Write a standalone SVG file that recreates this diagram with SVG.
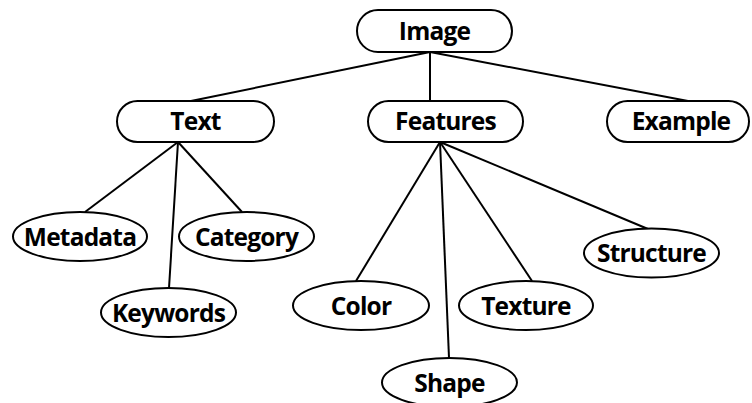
<svg xmlns="http://www.w3.org/2000/svg" width="752" height="403" viewBox="0 0 752 403">
<style>
.n{fill:#fff;stroke:#000;stroke-width:2}
.t{font-family:"Open Sans","Noto Sans","Liberation Sans",sans-serif;font-weight:bold;font-size:24.5px;letter-spacing:-0.8px;text-anchor:middle;fill:#000}
.c line{stroke:#000;stroke-width:2}
</style>
<rect width="752" height="403" fill="#fff"/>
<g class="c" id="connectors">
<line x1="430" y1="52" x2="191" y2="101"/>
<line x1="430" y1="52" x2="430" y2="101"/>
<line x1="430" y1="52" x2="688" y2="101"/>
<line x1="178" y1="142" x2="85" y2="212"/>
<line x1="178" y1="142" x2="169" y2="288"/>
<line x1="178" y1="142" x2="242" y2="212"/>
<line x1="440" y1="142" x2="356" y2="281"/>
<line x1="440" y1="142" x2="449" y2="358"/>
<line x1="440" y1="142" x2="532" y2="281"/>
<line x1="440" y1="142" x2="648" y2="229"/>
</g>
<g id="image"><rect class="n" x="357" y="10" width="155" height="42" rx="21"/><text class="t" x="434.5" y="40">Image</text></g>
<g id="text"><rect class="n" x="117" y="101" width="157" height="41" rx="20.5"/><text class="t" x="195.5" y="130">Text</text></g>
<g id="features"><rect class="n" x="368" y="101" width="155" height="41" rx="20.5"/><text class="t" x="445.5" y="130">Features</text></g>
<g id="example"><rect class="n" x="607" y="101" width="142" height="41" rx="20.5"/><text class="t" x="681" y="130">Example</text></g>
<g id="metadata"><ellipse class="n" cx="80" cy="236.5" rx="67" ry="24.5"/><text class="t" x="80" y="245.5">Metadata</text></g>
<g id="category"><ellipse class="n" cx="246.5" cy="236.5" rx="67.5" ry="24.5"/><text class="t" x="246.5" y="245.5">Category</text></g>
<g id="keywords"><ellipse class="n" cx="168.5" cy="312.5" rx="67.5" ry="24.5"/><text class="t" x="168.5" y="321.5">Keywords</text></g>
<g id="color"><ellipse class="n" cx="361" cy="305.5" rx="68" ry="24.5"/><text class="t" x="361" y="314.5">Color</text></g>
<g id="texture"><ellipse class="n" cx="526" cy="305.5" rx="67" ry="24.5"/><text class="t" x="526" y="314.5">Texture</text></g>
<g id="shape"><ellipse class="n" cx="449.5" cy="382.5" rx="67.5" ry="24.5"/><text class="t" x="449.5" y="391.5">Shape</text></g>
<g id="structure"><ellipse class="n" cx="651.5" cy="253" rx="67.5" ry="24.5"/><text class="t" x="651.5" y="262">Structure</text></g>
</svg>
